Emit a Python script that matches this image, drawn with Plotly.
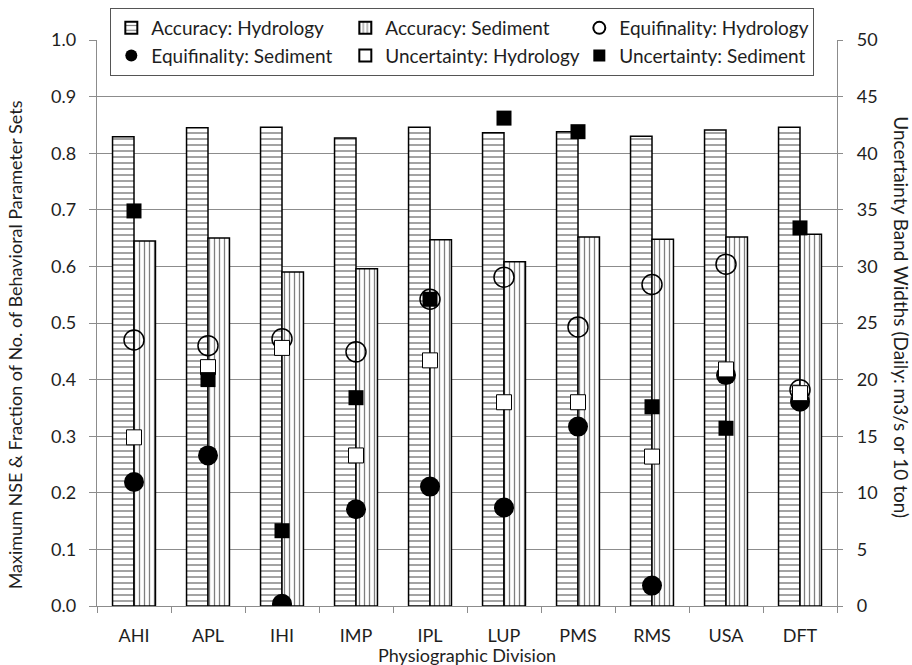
import plotly.graph_objects as go

categories = ["AHI", "APL", "IHI", "IMP", "IPL", "LUP", "PMS", "RMS", "USA", "DFT"]
acc_hydro = [0.829, 0.845, 0.846, 0.827, 0.846, 0.836, 0.838, 0.830, 0.841, 0.846]
acc_sed = [0.645, 0.650, 0.590, 0.596, 0.647, 0.608, 0.652, 0.648, 0.652, 0.657]
equi_hydro = [0.470, 0.460, 0.472, 0.449, 0.542, 0.581, 0.493, 0.568, 0.604, 0.382]
equi_sed = [0.219, 0.266, 0.004, 0.171, 0.211, 0.174, 0.317, 0.036, 0.408, 0.361]
unc_hydro = [14.9, 21.1, 22.8, 13.3, 21.7, 18.0, 18.0, 13.2, 20.9, 18.8]
unc_sed = [34.9, 20.0, 6.65, 18.4, 27.1, 43.1, 41.9, 17.6, 15.7, 33.4]

FONT = "Lato"
TXT = "#1e1e1e"
GRID = "#8c8c8c"

fig = go.Figure()
fig.add_trace(go.Bar(
    x=categories, y=acc_hydro, name="Accuracy: Hydrology",
    marker=dict(color="white", line=dict(color="black", width=1.5),
                pattern=dict(shape="-", size=6, solidity=0.24, fgcolor="black", bgcolor="white", fillmode="overlay")),
))
fig.add_trace(go.Bar(
    x=categories, y=acc_sed, name="Accuracy: Sediment",
    marker=dict(color="white", line=dict(color="black", width=1.5),
                pattern=dict(shape="|", size=5, solidity=0.26, fgcolor="black", bgcolor="white", fillmode="overlay")),
))
fig.add_trace(go.Scatter(
    x=categories, y=equi_hydro, name="Equifinality: Hydrology", mode="markers",
    marker=dict(symbol="circle-open", size=20, color="black", line=dict(color="black", width=1.5)),
))
fig.add_trace(go.Scatter(
    x=categories, y=equi_sed, name="Equifinality: Sediment", mode="markers",
    marker=dict(symbol="circle", size=20, color="black", line=dict(width=0)),
))
fig.add_trace(go.Scatter(
    x=categories, y=unc_hydro, name="Uncertainty: Hydrology", mode="markers", yaxis="y2",
    marker=dict(symbol="square", size=15, color="white", line=dict(color="black", width=1)),
))
fig.add_trace(go.Scatter(
    x=categories, y=unc_sed, name="Uncertainty: Sediment", mode="markers", yaxis="y2",
    marker=dict(symbol="square", size=15, color="black", line=dict(width=0)),
))

fig.update_layout(
    width=912, height=665,
    margin=dict(l=97, r=75, t=40, b=59, autoexpand=False),
    paper_bgcolor="white", plot_bgcolor="white",
    font=dict(family=FONT, size=18, color=TXT),
    barmode="group", bargap=0.42, bargroupgap=0,
    showlegend=True,
    legend=dict(
        orientation="h", x=0.018, xanchor="left", y=1.0565, yanchor="top",
        bgcolor="white", bordercolor="#555555", borderwidth=1,
        entrywidth=189, entrywidthmode="pixels", itemsizing="constant",
        font=dict(family=FONT, size=19, color=TXT),
        traceorder="normal",
    ),
    xaxis=dict(
        range=[-0.5, len(categories) - 0.5],
        showline=True, linecolor=GRID, linewidth=1.3,
        ticks="outside", tickson="boundaries", ticklen=6, tickcolor=GRID, tickwidth=1.3,
        showgrid=False, tickfont=dict(size=18, color=TXT), ticklabelstandoff=13,
    ),
    yaxis=dict(
        range=[0, 1], dtick=0.1, tickformat=".1f",
        showline=True, linecolor=GRID, linewidth=1.3,
        ticks="outside", ticklen=7, tickcolor=GRID, tickwidth=1.3,
        showgrid=True, gridcolor=GRID, gridwidth=1.3, zeroline=False,
        ticklabelstandoff=9, tickfont=dict(size=18, color=TXT),
    ),
    yaxis2=dict(
        range=[0, 50], dtick=5, overlaying="y", side="right",
        showline=True, linecolor=GRID, linewidth=1.3,
        ticks="outside", ticklen=5, tickcolor=GRID, tickwidth=1.3,
        showgrid=False, zeroline=False,
        ticklabelstandoff=10, tickfont=dict(size=18, color=TXT),
    ),
    annotations=[
        dict(text="Maximum NSE & Fraction of No. of Behavioral Parameter Sets",
             xref="paper", yref="paper", x=-0.111, y=0.462, textangle=-90,
             showarrow=False, font=dict(size=18, color=TXT), xanchor="center", yanchor="middle"),
        dict(text="Uncertainty Band Widths (Daily: m3/s or 10 ton)",
             xref="paper", yref="paper", x=1.088, y=0.51, textangle=90,
             showarrow=False, font=dict(size=19, color=TXT), xanchor="center", yanchor="middle"),
        dict(text="Physiographic Division",
             xref="paper", yref="paper", x=0.5, y=-0.0866,
             showarrow=False, font=dict(size=18, color=TXT), xanchor="center", yanchor="middle"),
    ],
)

fig.write_html("out.html")
